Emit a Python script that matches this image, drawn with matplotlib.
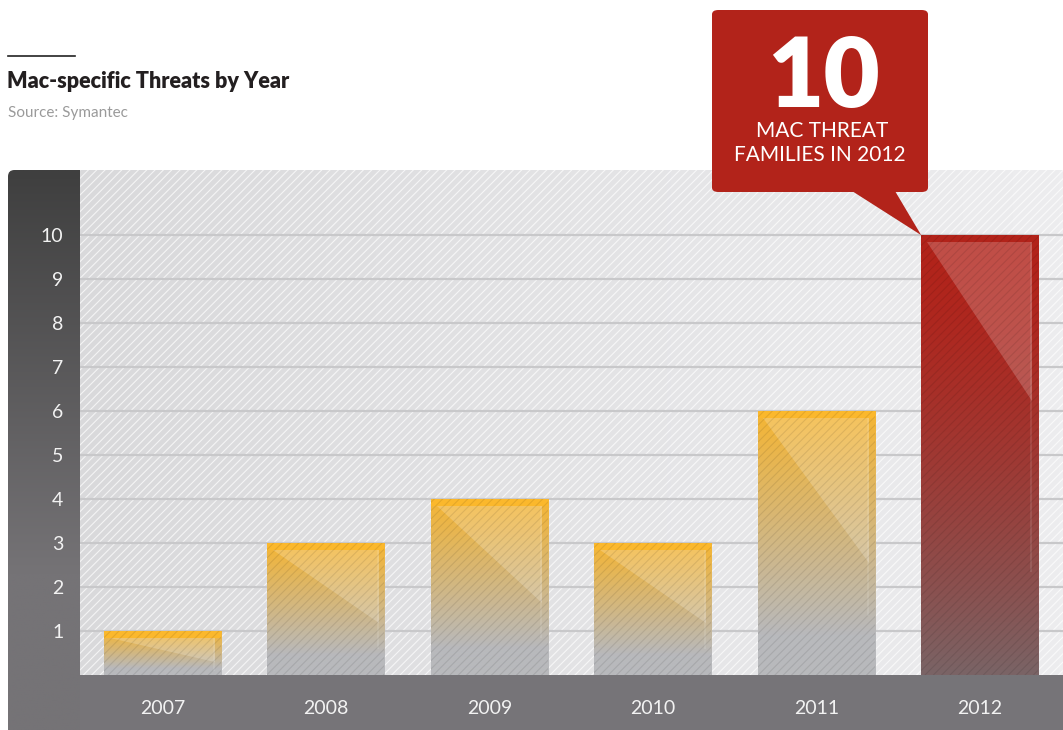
import numpy as np
import matplotlib
matplotlib.use("Agg")
import matplotlib.pyplot as plt
from matplotlib.patches import Rectangle, FancyBboxPatch, Polygon
from matplotlib.colors import to_rgb

# data
years = ["2007", "2008", "2009", "2010", "2011", "2012"]
threats = [1, 3, 4, 3, 6, 10]
y_ticks = [1, 2, 3, 4, 5, 6, 7, 8, 9, 10]

W, H = 1063, 730
plt.rcParams['font.family'] = ['Lato', 'DejaVu Sans']
plt.rcParams['hatch.linewidth'] = 0.8

fig = plt.figure(figsize=(W / 100, H / 100), dpi=100)


def fx(x):
    return x / W


def fy(y):
    return 1 - y / H


def vgrad(c_top, c_bot, n=256, stop=1.0, power=1.0):
    # vertical gradient image, top -> bottom
    a = np.array(to_rgb(c_top))
    b = np.array(to_rgb(c_bot))
    t = np.clip(np.linspace(0, 1, n) / stop, 0, 1)[:, None] ** power
    return (a * (1 - t) + b * t)[:, None, :]


# title block
fig.add_artist(plt.Line2D([fx(8), fx(75)], [fy(56), fy(56)], color="#222222", lw=1.2))
fig.text(fx(7), fy(82), "Mac-specific Threats by Year", fontsize=15.5, fontweight="heavy",
         color="#231f20", va="center", ha="left")
fig.text(fx(8), fy(113), "Source: Symantec", fontsize=11, color="#9a9a9a", va="center", ha="left")

# left dark panel
lp_h = 1 - 170 / H
lp = fig.add_axes([fx(8), 0, fx(80) - fx(8), lp_h])
lp.set_axis_off()
img = lp.imshow(vgrad("#3f3f3f", "#757376", stop=0.72), extent=[0, 1, 0, 1],
                aspect="auto", transform=lp.transAxes)
clip = FancyBboxPatch((0, -0.5), 1.5, 1.5, boxstyle="round,pad=0,rounding_size=0.09",
                      mutation_aspect=(72 / (560.0)), transform=lp.transAxes,
                      facecolor="none", edgecolor="none")
lp.add_patch(clip)
img.set_clip_path(clip)

# bottom band
fig.add_artist(Rectangle((fx(80), 0), 1 - fx(80), 1 - 675 / H, transform=fig.transFigure,
                         facecolor="#767478", edgecolor="none", zorder=0))

# main axes
ax = fig.add_axes([fx(80), 1 - 675 / H, 1 - fx(80), (675 - 170) / H])
x = np.arange(len(years))
bar_w = 0.716

# background gradient + hatch
bg = np.linspace(0, 1, 256)[None, :, None]
ca, cb = np.array(to_rgb("#d9d9db")), np.array(to_rgb("#ededef"))
ax.imshow(ca * (1 - bg) + cb * bg, extent=[0, 1, 0, 1], aspect="auto",
          transform=ax.transAxes, zorder=0)
ax.add_patch(Rectangle((0, 0), 1, 1, transform=ax.transAxes, fill=False, hatch="////",
                       edgecolor=(1, 1, 1, 0.7), lw=0, zorder=0.5))

for t in y_ticks:
    ax.axhline(t, color="#c8c8ca", lw=1.6, zorder=1)

# bars
for i, v in enumerate(threats):
    x0, x1 = x[i] - bar_w / 2, x[i] + bar_w / 2
    if i == len(threats) - 1:
        top_c, bot_c, edge_c = "#b2231a", "#7a6466", "#b2231a"
        stop, pw = 1.0, 1.6
    else:
        top_c, bot_c, edge_c = "#f5b533", "#b8b9bc", "#fbb82c"
        stop, pw = 0.85, 1.0
    ax.imshow(vgrad(top_c, bot_c, stop=stop, power=pw), extent=[x0, x1, 0, v],
              aspect="auto", zorder=2)
    # top border stripe
    ax.add_patch(Rectangle((x0, v - 0.16), bar_w, 0.16, facecolor=edge_c, edgecolor="none", zorder=3))
    # glossy highlight
    ix0, ix1 = x0 + 0.035, x1 - 0.035
    itop = v - 0.16
    hl = min(v * 0.55, 3.6)
    ax.add_patch(Polygon([(ix0, itop), (ix1, itop), (ix1, itop - hl)], closed=True,
                         facecolor=(1, 1, 1, 0.2), edgecolor="none", zorder=3))
    ax.add_patch(Rectangle((ix1 - 0.012, itop - v * 0.75), 0.012, v * 0.75,
                           facecolor=(1, 1, 1, 0.1), edgecolor="none", zorder=3))
    ax.bar(x[i], v, width=bar_w, color="none", hatch="////", edgecolor=(0, 0, 0, 0.09),
           lw=0, zorder=4)

ax.set_xlim(-0.505, 5.51)
ax.set_ylim(0, 11.48)
ax.set_xticks(x)
ax.set_xticklabels(years)
ax.set_yticks(y_ticks)
ax.tick_params(axis="both", length=0, colors="#f2f2f2", labelsize=14)
ax.tick_params(axis="y", pad=12)
ax.tick_params(axis="x", pad=18)
for s in ax.spines.values():
    s.set_visible(False)

# callout
red = "#b2231a"
fig.add_artist(FancyBboxPatch((fx(712), fy(192)), fx(928) - fx(712), fy(10) - fy(192),
                              boxstyle="round,pad=0,rounding_size=0.006",
                              transform=fig.transFigure, facecolor=red, edgecolor="none"))
tip = ax.transData.transform((x[-1] - bar_w / 2, threats[-1]))
tip = fig.transFigure.inverted().transform(tip)
fig.add_artist(Polygon([(fx(852), fy(191)), (fx(895), fy(191)), tuple(tip)], closed=True,
                       transform=fig.transFigure, facecolor=red, edgecolor="none"))
fig.text(fx(824), fy(78), str(threats[-1]), fontsize=70, fontweight="heavy", color="white",
         ha="center", va="center")
fig.text(fx(822), fy(131), "MAC THREAT", fontsize=15, color="white", ha="center", va="center")
fig.text(fx(820), fy(155), "FAMILIES IN 2012", fontsize=15, color="white", ha="center", va="center")

fig.savefig("out.png", dpi=100)
